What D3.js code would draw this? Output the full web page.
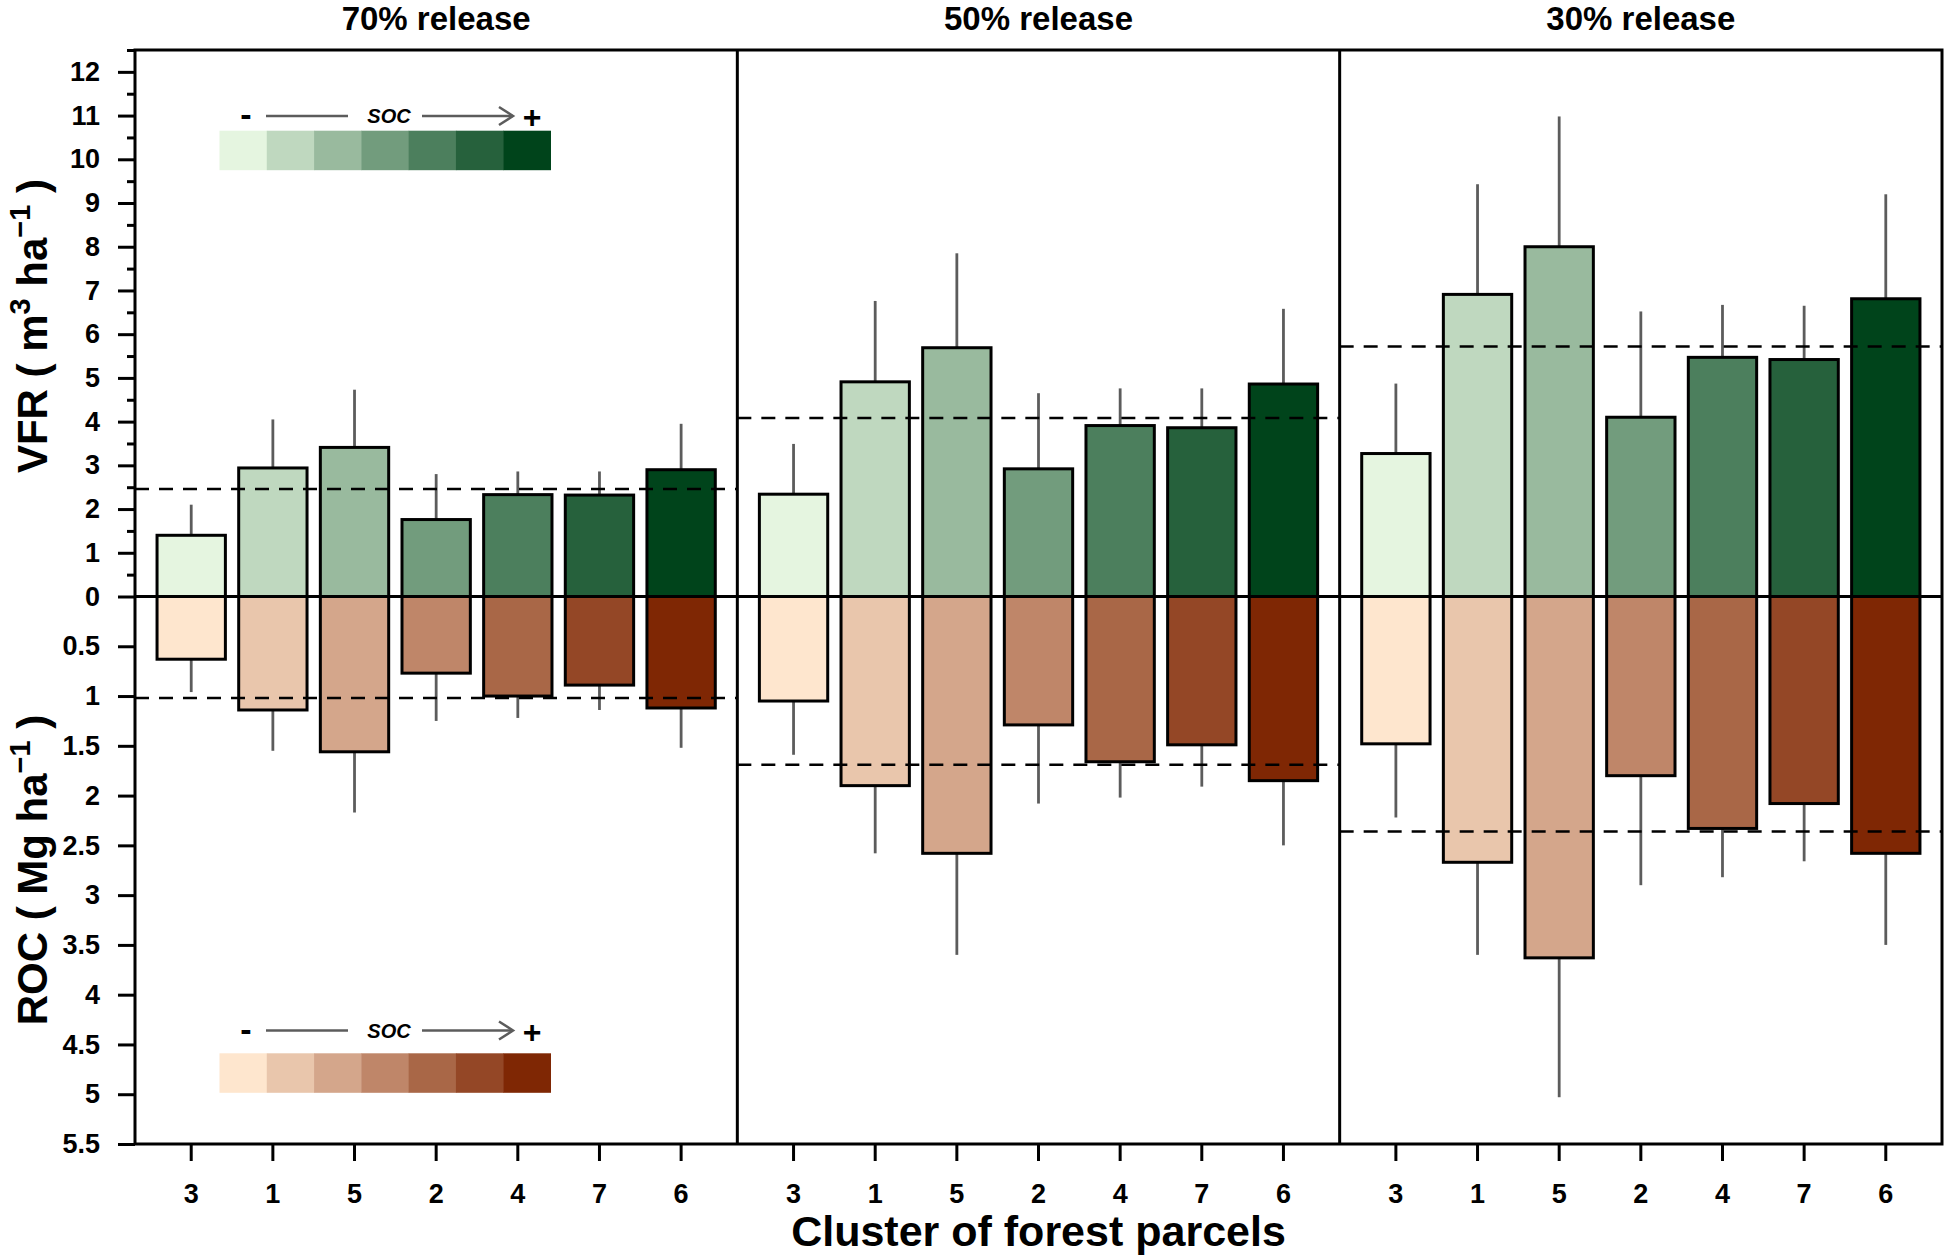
<!DOCTYPE html>
<html><head><meta charset="utf-8">
<script src="https://cdn.jsdelivr.net/npm/d3@7"></script>
<style>
body{margin:0;background:#fff}
text{font-family:"Liberation Sans",Arial,sans-serif;font-weight:bold;fill:#000}
</style>
</head><body>
<svg id="chart" width="1946" height="1258"></svg>
<script>
// ---------------- data ----------------
const clusters = ["3", "1", "5", "2", "4", "7", "6"];
const panelTitles = ["70% release", "50% release", "30% release"];

// VFR (m3 ha-1): bar means and upper whisker ends
const vfr70 = [1.40, 2.94, 3.41, 1.76, 2.33, 2.32, 2.90];
const vfr70Upper = [2.10, 4.05, 4.73, 2.80, 2.86, 2.86, 3.95];
const vfr50 = [2.34, 4.91, 5.69, 2.92, 3.91, 3.86, 4.86];
const vfr50Upper = [3.49, 6.76, 7.85, 4.65, 4.76, 4.76, 6.58];
const vfr30 = [3.27, 6.91, 8.00, 4.10, 5.47, 5.42, 6.81];
const vfr30Upper = [4.87, 9.43, 10.98, 6.52, 6.67, 6.65, 9.20];
const vfrOverall = [2.46, 4.08, 5.72];

// ROC (Mg ha-1): bar means and lower whisker ends
const roc70 = [0.63, 1.14, 1.56, 0.77, 1.00, 0.89, 1.12];
const roc70Upper = [0.96, 1.55, 2.17, 1.25, 1.22, 1.14, 1.52];
const roc50 = [1.05, 1.90, 2.58, 1.29, 1.66, 1.49, 1.85];
const roc50Upper = [1.59, 2.58, 3.60, 2.08, 2.02, 1.91, 2.50];
const roc30 = [1.48, 2.67, 3.63, 1.80, 2.33, 2.08, 2.58];
const roc30Upper = [2.22, 3.60, 5.03, 2.90, 2.82, 2.66, 3.50];
const rocOverall = [1.02, 1.69, 2.36];

const vfrTicks = [0, 1, 2, 3, 4, 5, 6, 7, 8, 9, 10, 11, 12];
const vfrMinorTicks = [0.5, 1.5, 2.5, 3.5, 4.5, 5.5, 6.5, 7.5, 8.5, 9.5, 10.5, 11.5, 12.5];
const rocTicks = [0.5, 1, 1.5, 2, 2.5, 3, 3.5, 4, 4.5, 5, 5.5];

const greens = ["#e5f5e0", "#bfd8bf", "#99ba9e", "#729c7d", "#4c7f5d", "#26613c", "#00441b"];
const browns = ["#fee6ce", "#e9c6ac", "#d4a68b", "#bf8669", "#a96747", "#944726", "#7f2704"];

const vfrSets = [vfr70, vfr50, vfr30];
const vfrUpperSets = [vfr70Upper, vfr50Upper, vfr30Upper];
const rocSets = [roc70, roc50, roc30];
const rocUpperSets = [roc70Upper, roc50Upper, roc30Upper];

// ---------------- layout ----------------
const L = 135, R = 1942, T = 50, B = 1144, Z = 596.5;
const panelW = (R - L) / 3;
const svg = d3.select("#chart");

const yV = d3.scaleLinear().domain([0, 12.5]).range([Z, T]);
const yR = d3.scaleLinear().domain([0, 5.5]).range([Z, B]);
const px = d3.scaleBand().domain(d3.range(3)).range([L, R]).padding(0);

const errColor = "#5c5c5c";

panelTitles.forEach((title, p) => {
  const x0 = px(p);
  const xb = d3.scaleBand().domain(clusters).range([x0, x0 + panelW])
    .paddingInner(0.163).paddingOuter(0.27);
  const g = svg.append("g");

  // error bars
  g.selectAll(".ev").data(clusters).join("line")
    .attr("x1", d => xb(d) + xb.bandwidth() / 2).attr("x2", d => xb(d) + xb.bandwidth() / 2)
    .attr("y1", (d, i) => yV(vfrSets[p][i])).attr("y2", (d, i) => yV(vfrUpperSets[p][i]))
    .attr("stroke", errColor).attr("stroke-width", 2.8);
  g.selectAll(".er").data(clusters).join("line")
    .attr("x1", d => xb(d) + xb.bandwidth() / 2).attr("x2", d => xb(d) + xb.bandwidth() / 2)
    .attr("y1", (d, i) => yR(rocSets[p][i])).attr("y2", (d, i) => yR(rocUpperSets[p][i]))
    .attr("stroke", errColor).attr("stroke-width", 2.8);

  // VFR bars
  g.selectAll(".bv").data(clusters).join("rect")
    .attr("x", d => xb(d)).attr("width", xb.bandwidth())
    .attr("y", (d, i) => yV(vfrSets[p][i]))
    .attr("height", (d, i) => yV(0) - yV(vfrSets[p][i]))
    .attr("fill", (d, i) => greens[i]).attr("stroke", "#000").attr("stroke-width", 3);
  // ROC bars
  g.selectAll(".br").data(clusters).join("rect")
    .attr("x", d => xb(d)).attr("width", xb.bandwidth())
    .attr("y", yR(0))
    .attr("height", (d, i) => yR(rocSets[p][i]) - yR(0))
    .attr("fill", (d, i) => browns[i]).attr("stroke", "#000").attr("stroke-width", 3);

  // overall mean dashed lines
  g.append("line").attr("x1", x0).attr("x2", x0 + panelW)
    .attr("y1", yV(vfrOverall[p])).attr("y2", yV(vfrOverall[p]))
    .attr("stroke", "#000").attr("stroke-width", 2.5).attr("stroke-dasharray", "14,10");
  g.append("line").attr("x1", x0).attr("x2", x0 + panelW)
    .attr("y1", yR(rocOverall[p])).attr("y2", yR(rocOverall[p]))
    .attr("stroke", "#000").attr("stroke-width", 2.5).attr("stroke-dasharray", "14,10");

  // x axis
  const ax = svg.append("g").attr("transform", `translate(0,${B})`)
    .call(d3.axisBottom(xb).tickSize(17).tickSizeOuter(0).tickPadding(23));
  ax.select(".domain").remove();
  ax.selectAll(".tick line").attr("stroke", "#000").attr("stroke-width", 3);
  ax.selectAll(".tick text").attr("font-size", 27).attr("font-family", null);

  // panel title
  svg.append("text").attr("x", x0 + panelW / 2).attr("y", 30)
    .attr("text-anchor", "middle").attr("font-size", 33).text(title);
});

// zero line
svg.append("line").attr("x1", L).attr("x2", R).attr("y1", Z).attr("y2", Z)
  .attr("stroke", "#000").attr("stroke-width", 3);

// panel dividers
[1, 2].forEach(p => {
  svg.append("line").attr("x1", px(p)).attr("x2", px(p)).attr("y1", T).attr("y2", B)
    .attr("stroke", "#000").attr("stroke-width", 3);
});

// frame
svg.append("rect").attr("x", L).attr("y", T).attr("width", R - L).attr("height", B - T)
  .attr("fill", "none").attr("stroke", "#000").attr("stroke-width", 3);

// y axes
function styleAxis(a) {
  a.select(".domain").remove();
  a.selectAll(".tick line").attr("stroke", "#000").attr("stroke-width", 3);
  a.selectAll(".tick text").attr("font-size", 27).attr("font-family", null);
}
const axV = svg.append("g").attr("transform", `translate(${L},0)`)
  .call(d3.axisLeft(yV).tickValues(vfrTicks).tickSize(17).tickPadding(18).tickFormat(d => String(d)));
styleAxis(axV);
const axVm = svg.append("g").attr("transform", `translate(${L},0)`)
  .call(d3.axisLeft(yV).tickValues(vfrMinorTicks).tickSize(8).tickFormat(""));
styleAxis(axVm);
const axR = svg.append("g").attr("transform", `translate(${L},0)`)
  .call(d3.axisLeft(yR).tickValues(rocTicks).tickSize(17).tickPadding(18).tickFormat(d => String(d)));
styleAxis(axR);

// y titles with superscripts
function yTitle(cx, cy, main, unit1, sup1, unit2, sup2) {
  const t = svg.append("text").attr("transform", `translate(${cx},${cy}) rotate(-90)`)
    .attr("text-anchor", "middle").attr("font-size", 42);
  t.append("tspan").text(main + " ( " + unit1);
  if (sup1) {
    t.append("tspan").attr("font-size", 29).attr("dy", -17).text(sup1);
    t.append("tspan").attr("dy", 17).text(" " + unit2);
  } else {
    t.append("tspan").text(" " + unit2);
  }
  t.append("tspan").attr("font-size", 29).attr("dy", -17).text(sup2);
  t.append("tspan").attr("dy", 17).text(" )");
}
yTitle(47, 326, "VFR", "m", "3", "ha", "\u22121");
yTitle(47, 870, "ROC", "Mg", null, "ha", "\u22121");

// x title
svg.append("text").attr("x", (L + R) / 2).attr("y", 1246).attr("text-anchor", "middle")
  .attr("font-size", 43).text("Cluster of forest parcels");

// legends
function legend(colors, boxTop, textY) {
  const lx = d3.scaleBand().domain(d3.range(colors.length)).range([219.5, 550.5]);
  const g = svg.append("g");
  g.selectAll("rect").data(colors).join("rect")
    .attr("x", (d, i) => lx(i)).attr("y", boxTop)
    .attr("width", lx.bandwidth() + 0.5).attr("height", 39.5).attr("fill", d => d);
  g.append("text").attr("x", 246).attr("y", textY + 10).attr("text-anchor", "middle")
    .attr("font-size", 34).text("-");
  g.append("text").attr("x", 532).attr("y", textY + 12).attr("text-anchor", "middle")
    .attr("font-size", 32).text("+");
  g.append("text").attr("x", 389).attr("y", textY + 7).attr("text-anchor", "middle")
    .attr("font-size", 20).attr("font-style", "italic").text("SOC");
  g.append("line").attr("x1", 266).attr("x2", 348).attr("y1", textY).attr("y2", textY)
    .attr("stroke", errColor).attr("stroke-width", 2.5);
  g.append("line").attr("x1", 422).attr("x2", 513).attr("y1", textY).attr("y2", textY)
    .attr("stroke", errColor).attr("stroke-width", 2.5);
  g.append("path").attr("d", `M${513 - 14},${textY - 9}L513,${textY}L${513 - 14},${textY + 9}`)
    .attr("fill", "none").attr("stroke", errColor).attr("stroke-width", 2.5);
}
legend(greens, 130.7, 116);
legend(browns, 1053.3, 1030.5);
</script>
</body></html>
